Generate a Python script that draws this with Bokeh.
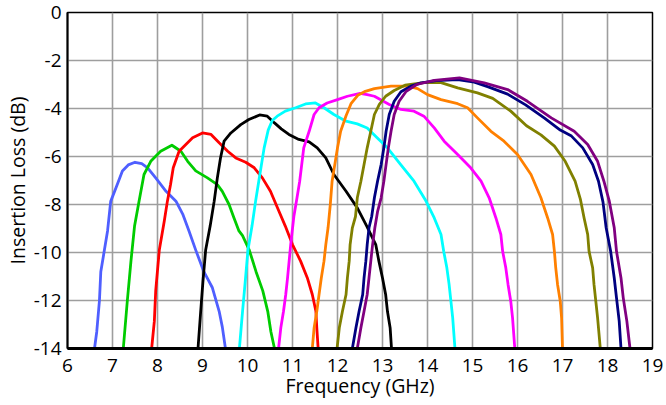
from bokeh.plotting import figure
from bokeh.models import FixedTicker, Range1d
from bokeh.embed import file_html
from bokeh.resources import INLINE

x_ticks = [6, 7, 8, 9, 10, 11, 12, 13, 14, 15, 16, 17, 18, 19]
y_ticks = [0, -2, -4, -6, -8, -10, -12, -14]

blue_f = [6.60, 6.65, 6.71, 6.74, 6.82, 6.89, 6.96, 7.11, 7.22, 7.35, 7.50, 7.65, 7.78, 7.96, 8.19, 8.41, 8.56, 8.70, 8.85, 9.03, 9.22, 9.37, 9.44, 9.51]
blue_l = [-14, -13.3, -12.0, -10.8, -9.9, -9.1, -7.87, -7.15, -6.6, -6.35, -6.24, -6.3, -6.47, -6.89, -7.45, -7.86, -8.4, -9.1, -9.9, -10.8, -11.47, -12.45, -13.1, -14]

green_f = [7.24, 7.33, 7.41, 7.49, 7.59, 7.70, 7.85, 8.07, 8.32, 8.52, 8.67, 8.85, 9.11, 9.33, 9.44, 9.59, 9.70, 9.81, 9.89, 10.04, 10.19, 10.34, 10.45, 10.52, 10.60]
green_l = [-14, -12, -10.36, -8.9, -7.86, -6.75, -6.2, -5.78, -5.53, -5.78, -6.2, -6.6, -6.89, -7.17, -7.45, -8.0, -8.56, -9.1, -9.3, -9.9, -10.8, -11.6, -12.45, -13.3, -14]

red_f = [7.87, 7.93, 7.96, 8.04, 8.15, 8.22, 8.29, 8.35, 8.48, 8.63, 8.78, 9.00, 9.19, 9.37, 9.56, 9.74, 9.96, 10.15, 10.33, 10.51, 10.68, 10.84, 11.00, 11.18, 11.33, 11.44, 11.52, 11.54, 11.57]
red_l = [-14, -12.86, -11.6, -9.9, -8.7, -7.86, -7.17, -6.47, -5.78, -5.5, -5.22, -5.02, -5.08, -5.43, -5.78, -6.06, -6.24, -6.47, -6.89, -7.45, -8.2, -8.9, -9.67, -10.36, -11.06, -11.75, -12.45, -13.14, -14]

black_f = [8.90, 8.96, 9.01, 9.07, 9.17, 9.26, 9.33, 9.40, 9.48, 9.63, 9.85, 10.03, 10.27, 10.44, 10.60, 10.75, 10.92, 11.14, 11.37, 11.55, 11.74, 11.92, 12.19, 12.44, 12.65, 12.85, 12.92, 13.00, 13.07, 13.11, 13.17, 13.20]
black_l = [-14, -12.45, -11.2, -9.9, -8.9, -7.86, -6.89, -6.06, -5.36, -5.02, -4.67, -4.46, -4.27, -4.32, -4.6, -4.85, -5.08, -5.29, -5.39, -5.64, -6.06, -6.75, -7.45, -8.14, -8.9, -9.67, -10.36, -11.06, -11.75, -12.45, -13.14, -14]

cyan_f = [9.82, 9.89, 9.95, 10.01, 10.10, 10.18, 10.27, 10.37, 10.46, 10.55, 10.66, 10.84, 11.07, 11.29, 11.51, 11.70, 11.92, 12.19, 12.44, 12.66, 12.88, 13.11, 13.40, 13.70, 13.95, 14.15, 14.30, 14.36, 14.43, 14.48, 14.52, 14.56, 14.61]
cyan_l = [-14, -12.45, -11.2, -9.9, -8.9, -7.86, -6.8, -5.64, -4.9, -4.5, -4.32, -4.11, -3.97, -3.81, -3.77, -3.97, -4.25, -4.53, -4.64, -4.81, -5.22, -5.64, -6.33, -7.03, -7.8, -8.56, -9.25, -9.95, -10.64, -11.33, -12.03, -12.72, -14]

magenta_f = [10.69, 10.74, 10.80, 10.85, 10.89, 10.96, 11.03, 11.10, 11.16, 11.25, 11.37, 11.48, 11.59, 11.77, 12.00, 12.22, 12.50, 12.66, 12.82, 13.15, 13.41, 13.70, 13.92, 14.15, 14.37, 14.67, 14.96, 15.19, 15.37, 15.52, 15.63, 15.67, 15.74, 15.79, 15.85, 15.89, 15.94]
magenta_l = [-14, -13.14, -12.45, -11.75, -11.06, -9.67, -8.5, -7.72, -7.03, -5.64, -4.95, -4.25, -3.97, -3.77, -3.63, -3.49, -3.37, -3.42, -3.49, -3.83, -4.04, -4.11, -4.32, -4.81, -5.36, -5.92, -6.47, -7.03, -7.72, -8.56, -9.25, -9.95, -10.64, -11.33, -12.03, -12.72, -14]

orange_f = [11.44, 11.48, 11.54, 11.59, 11.64, 11.70, 11.74, 11.79, 11.84, 11.88, 12.00, 12.07, 12.19, 12.30, 12.45, 12.60, 12.82, 13.19, 13.56, 13.78, 14.00, 14.30, 14.67, 14.89, 15.11, 15.41, 15.70, 16.00, 16.30, 16.52, 16.67, 16.78, 16.82, 16.85, 16.89, 16.95, 16.98, 17.00]
orange_l = [-14, -13.14, -12.45, -11.75, -11.06, -10.36, -9.67, -8.97, -8.0, -7.03, -5.64, -4.95, -4.3, -3.8, -3.45, -3.3, -3.17, -3.07, -3.07, -3.17, -3.42, -3.63, -3.8, -3.97, -4.39, -4.95, -5.36, -5.92, -6.75, -7.72, -8.56, -9.25, -9.95, -10.64, -11.33, -12.03, -12.72, -14]

olive_f = [11.99, 12.04, 12.11, 12.19, 12.22, 12.26, 12.28, 12.33, 12.40, 12.44, 12.52, 12.59, 12.66, 12.74, 12.82, 12.93, 13.07, 13.26, 13.50, 13.92, 14.30, 14.67, 15.11, 15.45, 15.85, 16.20, 16.52, 16.82, 17.06, 17.28, 17.40, 17.48, 17.56, 17.59, 17.67, 17.70, 17.74, 17.78, 17.84]
olive_l = [-14, -13.14, -12.45, -11.75, -11.06, -10.36, -9.67, -8.97, -8.5, -7.72, -7.03, -6.33, -5.64, -4.95, -4.25, -3.83, -3.49, -3.25, -3.03, -2.92, -2.92, -3.14, -3.35, -3.58, -4.11, -4.72, -5.1, -5.57, -6.2, -7.03, -7.8, -8.56, -9.25, -9.95, -10.64, -11.33, -12.03, -12.72, -14]

navy_f = [12.33, 12.41, 12.48, 12.56, 12.59, 12.63, 12.66, 12.70, 12.76, 12.82, 12.89, 12.97, 13.03, 13.08, 13.15, 13.26, 13.41, 13.63, 13.86, 14.20, 14.67, 15.04, 15.35, 15.78, 16.18, 16.60, 16.95, 17.20, 17.45, 17.67, 17.80, 17.90, 17.97, 18.07, 18.15, 18.20, 18.26, 18.30]
navy_l = [-14, -13.14, -12.45, -11.75, -11.06, -10.36, -9.67, -8.97, -8.5, -7.72, -7.03, -6.33, -5.64, -4.95, -4.25, -3.7, -3.3, -3.07, -2.93, -2.84, -2.8, -2.9, -3.1, -3.4, -3.85, -4.4, -4.9, -5.15, -5.64, -6.33, -7.03, -7.9, -8.97, -9.95, -11.06, -11.89, -12.86, -14]

purple_f = [12.44, 12.52, 12.59, 12.66, 12.70, 12.74, 12.78, 12.83, 12.89, 12.97, 13.03, 13.08, 13.13, 13.19, 13.26, 13.37, 13.52, 13.76, 14.15, 14.71, 15.26, 15.78, 16.22, 16.75, 17.26, 17.56, 17.78, 17.92, 18.04, 18.15, 18.20, 18.30, 18.35, 18.43, 18.50]
purple_l = [-14, -13.14, -12.45, -11.75, -11.06, -10.36, -9.67, -8.97, -8.3, -7.72, -7.03, -6.33, -5.64, -4.95, -4.25, -3.7, -3.3, -3.0, -2.83, -2.72, -2.93, -3.21, -3.7, -4.39, -4.95, -5.5, -6.2, -7.03, -7.86, -8.97, -9.95, -11.06, -11.89, -12.86, -14]

series = [
    (blue_f, blue_l, "#4F5FFF"),
    (green_f, green_l, "#00CC00"),
    (red_f, red_l, "#FF0000"),
    (black_f, black_l, "#000000"),
    (cyan_f, cyan_l, "#00FFFF"),
    (magenta_f, magenta_l, "#FF00FF"),
    (orange_f, orange_l, "#FF8000"),
    (olive_f, olive_l, "#808000"),
    (navy_f, navy_l, "#000080"),
    (purple_f, purple_l, "#800080"),
]

FONT = "Open Sans"

p = figure(frame_width=585, frame_height=336, output_backend="svg", toolbar_location=None,
           x_range=Range1d(6, 19), y_range=Range1d(-14, 0),
           min_border_left=58, min_border_right=15, min_border_top=12, min_border_bottom=40)
p.background_fill_color = "white"
p.border_fill_color = "white"
p.outline_line_color = "black"
p.outline_line_width = 1.5

for f, l, c in series:
    p.line(f, l, line_color=c, line_width=2.8, line_join="round")

p.xaxis.ticker = FixedTicker(ticks=x_ticks)
p.yaxis.ticker = FixedTicker(ticks=y_ticks)
p.xgrid.ticker = FixedTicker(ticks=x_ticks)
p.ygrid.ticker = FixedTicker(ticks=y_ticks)
p.xaxis.major_label_overrides = {t: str(t) for t in x_ticks}
p.yaxis.major_label_overrides = {t: str(t) for t in y_ticks}
for g in (p.xgrid, p.ygrid):
    g.grid_line_color = "#9E9E9E"
    g.grid_line_width = 1.6

for ax in (p.xaxis, p.yaxis):
    ax.major_tick_in = 0
    ax.major_tick_out = 0
    ax.minor_tick_in = 0
    ax.minor_tick_out = 0
    ax.axis_line_color = "black"
    ax.major_label_text_font = FONT
    ax.major_label_text_font_size = "19px"
    ax.major_label_text_color = "black"
    ax.axis_label_text_font = FONT
    ax.axis_label_text_font_size = "19.5px"
    ax.axis_label_text_font_style = "normal"
    ax.axis_label_text_color = "black"

p.xaxis.axis_line_width = 3
p.yaxis.axis_line_width = 2
p.xaxis.axis_label = "Frequency (GHz)"
p.yaxis.axis_label = "Insertion Loss (dB)"
p.xaxis.major_label_standoff = 10
p.yaxis.major_label_standoff = 6
p.xaxis.axis_label_standoff = -3
p.yaxis.axis_label_standoff = 0

open("out.html", "w").write(file_html(p, INLINE))
